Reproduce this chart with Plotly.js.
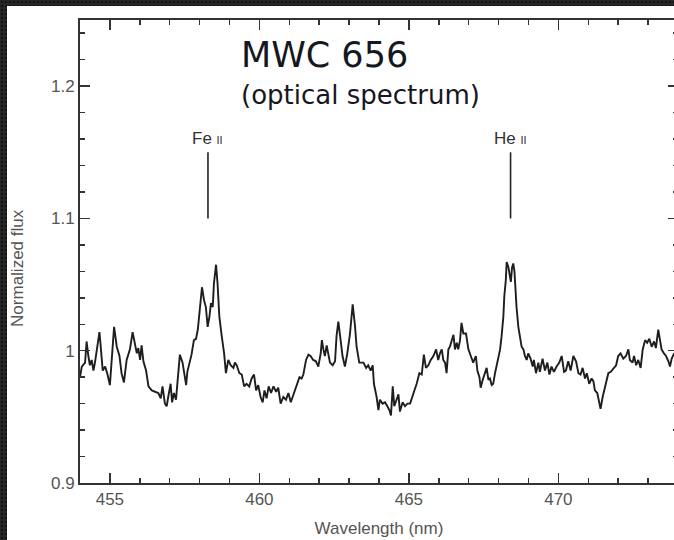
<!DOCTYPE html>
<html>
<head>
<meta charset="utf-8">
<script src="https://cdn.plot.ly/plotly-3.0.1.min.js"></script>
<style>
  html, body { margin: 0; padding: 0; width: 674px; height: 540px; overflow: hidden;
    background-color: #262626;
    background-image: radial-gradient(#111 1px, transparent 1.4px);
    background-size: 4px 4px; }
  #chart { position: absolute; left: 7px; top: 6px; width: 671px; height: 534px; }
</style>
</head>
<body>
<div id="chart"></div>
<script>
// Wavelength (nm)
const wavelength = [
454.00,454.06,454.17,454.22,454.28,454.33,454.39,454.45,454.50,454.56,454.65,454.69,454.76,454.84,454.91,455.00,455.06,455.14,455.23,455.32,
455.39,455.47,455.56,455.67,455.76,455.84,455.90,455.95,456.01,456.06,456.12,456.21,456.29,456.40,456.51,456.62,456.70,456.76,456.84,456.90,
456.95,457.03,457.08,457.14,457.21,457.26,457.34,457.43,457.49,457.55,457.59,457.66,457.73,457.81,457.88,457.94,458.01,458.08,458.15,458.21,
458.27,458.33,458.38,458.44,458.48,458.55,458.60,458.66,458.74,458.82,458.88,458.96,459.04,459.13,459.18,459.24,459.33,459.41,459.49,459.57,
459.66,459.74,459.82,459.89,459.96,460.04,460.11,460.17,460.24,460.31,460.39,460.47,460.56,460.63,460.71,460.80,460.89,460.97,461.05,461.11,
461.19,461.25,461.34,461.41,461.47,461.56,461.64,461.71,461.80,461.89,461.97,462.05,462.09,462.14,462.19,462.25,462.31,462.36,462.45,462.53,
462.58,462.64,462.70,462.78,462.86,462.94,463.03,463.12,463.20,463.25,463.34,463.48,463.57,463.64,463.72,463.79,463.83,463.92,463.98,464.03,
464.12,464.20,464.28,464.35,464.40,464.46,464.51,464.59,464.65,464.70,464.79,464.87,464.95,465.04,465.09,465.17,465.26,465.35,465.43,465.50,
465.57,465.65,465.73,465.82,465.91,465.98,466.04,466.10,466.15,466.21,466.26,466.32,466.37,466.44,466.49,466.54,466.60,466.65,466.71,466.76,
466.82,466.91,466.99,467.07,467.15,467.24,467.29,467.36,467.40,467.47,467.55,467.60,467.66,467.71,467.77,467.82,467.88,467.94,467.99,468.05,
468.10,468.16,468.19,468.24,468.27,468.33,468.38,468.41,468.45,468.49,468.53,468.56,468.60,468.66,468.72,468.77,468.83,468.88,468.94,468.99,
469.07,469.14,469.18,469.25,469.33,469.38,469.47,469.55,469.63,469.70,469.77,469.85,469.94,470.03,470.11,470.19,470.25,470.33,470.41,470.50,
470.59,470.67,470.74,470.81,470.89,470.95,471.03,471.11,471.17,471.22,471.30,471.37,471.41,471.48,471.56,471.61,471.67,471.75,471.84,471.93,
472.00,472.08,472.17,472.26,472.34,472.39,472.48,472.53,472.60,472.67,472.75,472.82,472.90,472.97,473.04,473.12,473.20,473.26,473.34,473.40,
473.45,473.53,473.60,473.68,473.73,473.79,473.87
];
// Normalized flux
const flux = [
0.980,0.988,0.991,1.007,0.996,0.989,0.993,0.985,0.991,1.001,1.014,1.004,0.985,0.988,0.983,0.974,0.991,1.018,1.003,0.996,
0.983,0.976,0.993,1.001,1.014,1.003,0.998,1.002,0.993,1.004,0.992,0.985,0.973,0.970,0.969,0.968,0.964,0.973,0.960,0.958,
0.965,0.975,0.961,0.968,0.963,0.975,0.997,0.991,0.984,0.974,0.984,0.991,0.997,1.008,1.009,1.016,1.033,1.048,1.038,1.033,
1.018,1.026,1.036,1.033,1.051,1.065,1.051,1.026,1.011,0.998,0.983,0.993,0.989,0.987,0.991,0.989,0.983,0.982,0.973,0.975,
0.973,0.979,0.982,0.970,0.974,0.965,0.961,0.970,0.964,0.973,0.968,0.973,0.969,0.972,0.960,0.965,0.963,0.968,0.961,0.965,
0.970,0.974,0.980,0.979,0.982,0.993,0.997,0.996,0.993,0.992,0.988,0.998,1.008,1.001,0.996,1.004,0.998,0.991,0.989,0.992,
1.011,1.022,1.011,0.996,0.988,0.998,1.013,1.035,1.018,1.003,0.991,0.991,0.987,0.989,0.985,0.989,0.975,0.965,0.955,0.963,
0.960,0.961,0.958,0.955,0.951,0.973,0.958,0.963,0.967,0.954,0.961,0.958,0.960,0.960,0.964,0.969,0.975,0.983,0.982,0.997,
0.987,0.989,0.993,0.996,1.001,0.993,0.998,1.001,0.993,0.991,0.983,1.001,1.003,1.008,1.012,1.001,1.006,1.001,1.008,1.021,
1.013,1.013,1.001,0.996,0.991,0.996,0.985,0.980,0.972,0.978,0.983,0.987,0.978,0.979,0.974,0.975,0.983,0.989,0.993,1.001,
1.011,1.026,1.041,1.053,1.067,1.063,1.056,1.052,1.063,1.066,1.060,1.048,1.033,1.018,1.008,1.003,1.001,0.996,0.993,0.998,
0.994,0.988,0.993,0.983,0.991,0.984,0.994,0.985,0.991,0.982,0.988,0.984,0.988,0.991,0.996,0.984,0.985,0.992,0.985,0.996,
0.992,0.983,0.982,0.987,0.979,0.983,0.975,0.979,0.977,0.970,0.968,0.961,0.956,0.965,0.973,0.978,0.983,0.984,0.987,0.989,
0.996,0.998,0.994,0.996,1.001,0.993,0.991,0.996,0.989,0.993,0.987,1.001,1.008,1.006,1.009,1.003,1.007,1.002,1.016,1.008,
1.001,0.998,0.996,0.992,0.988,0.994,0.998
];
// Line identifications
const lineNames = ["Fe <span style='font-size:11px'>II</span>", "He <span style='font-size:11px'>II</span>"];
const lineWavelengths = [458.28, 468.40];
const markerBottom = 1.10, markerTop = 1.15, labelY = 1.152;

const xTickVals = [455, 460, 465, 470];
const yTickVals = [0.9, 1.0, 1.1, 1.2];
const yTickText = ["0.9", "1", "1.1", "1.2"];

const axisColor = '#333';
const labelColor = '#555';

const trace = {
  x: wavelength, y: flux, type: 'scatter', mode: 'lines',
  line: { color: '#1e1e1e', width: 1.9 }, hoverinfo: 'skip'
};

const shapes = lineWavelengths.map(w => ({
  type: 'line', xref: 'x', yref: 'y', x0: w, x1: w, y0: markerBottom, y1: markerTop,
  line: { color: '#222', width: 1.6 }
}));

const annotations = lineWavelengths.map((w, i) => ({
  x: w, y: labelY, xref: 'x', yref: 'y', text: lineNames[i], showarrow: false,
  xanchor: 'center', yanchor: 'bottom', font: { family: 'Liberation Sans, Arial, sans-serif', size: 17, color: '#333' }
}));
annotations.push({
  xref: 'paper', yref: 'paper', x: 0.266, y: 0.972, xanchor: 'left', yanchor: 'top',
  text: 'MWC 656', showarrow: false,
  font: { family: 'DejaVu Sans, sans-serif', size: 35, color: '#17171f' }
});
annotations.push({
  xref: 'paper', yref: 'paper', x: 0.266, y: 0.874, xanchor: 'left', yanchor: 'top',
  text: '(optical spectrum)', showarrow: false,
  font: { family: 'DejaVu Sans, sans-serif', size: 26, color: '#17171f' }
});
annotations.push({
  xref: 'paper', yref: 'paper', x: -0.105, y: 0.465, xanchor: 'center', yanchor: 'middle',
  text: 'Normalized flux', textangle: -90, showarrow: false,
  font: { family: 'Liberation Sans, Arial, sans-serif', size: 17, color: labelColor }
});

const layout = {
  width: 671, height: 534,
  margin: { l: 73, r: 0, t: 14, b: 57 },
  paper_bgcolor: '#ffffff', plot_bgcolor: '#ffffff',
  showlegend: false,
  font: { family: 'Liberation Sans, Arial, sans-serif', color: labelColor, size: 17 },
  xaxis: {
    range: [454, 474], tickvals: xTickVals, ticks: 'inside', ticklen: 10, tickwidth: 1.5, tickcolor: axisColor,
    showline: true, linecolor: axisColor, linewidth: 2, mirror: 'ticks', showgrid: false, zeroline: false,
    tickfont: { size: 17, color: labelColor },
    minor: { dtick: 1, ticks: 'inside', ticklen: 5, tickwidth: 1.5, tickcolor: axisColor, showgrid: false },
    title: { text: 'Wavelength (nm)', font: { size: 17, color: labelColor }, standoff: 14 }
  },
  yaxis: {
    range: [0.9, 1.25], tickvals: yTickVals, ticktext: yTickText, ticks: 'inside', ticklen: 10, tickwidth: 1.5, tickcolor: axisColor,
    showline: true, linecolor: axisColor, linewidth: 2, mirror: 'ticks', showgrid: false, zeroline: false,
    tickfont: { size: 17, color: labelColor },
    minor: { dtick: 0.02, tick0: 0.9, ticks: 'inside', ticklen: 5, tickwidth: 1.5, tickcolor: axisColor, showgrid: false }
  },
  shapes: shapes,
  annotations: annotations
};

Plotly.newPlot('chart', [trace], layout, { displayModeBar: false, staticPlot: true });
</script>
</body>
</html>
